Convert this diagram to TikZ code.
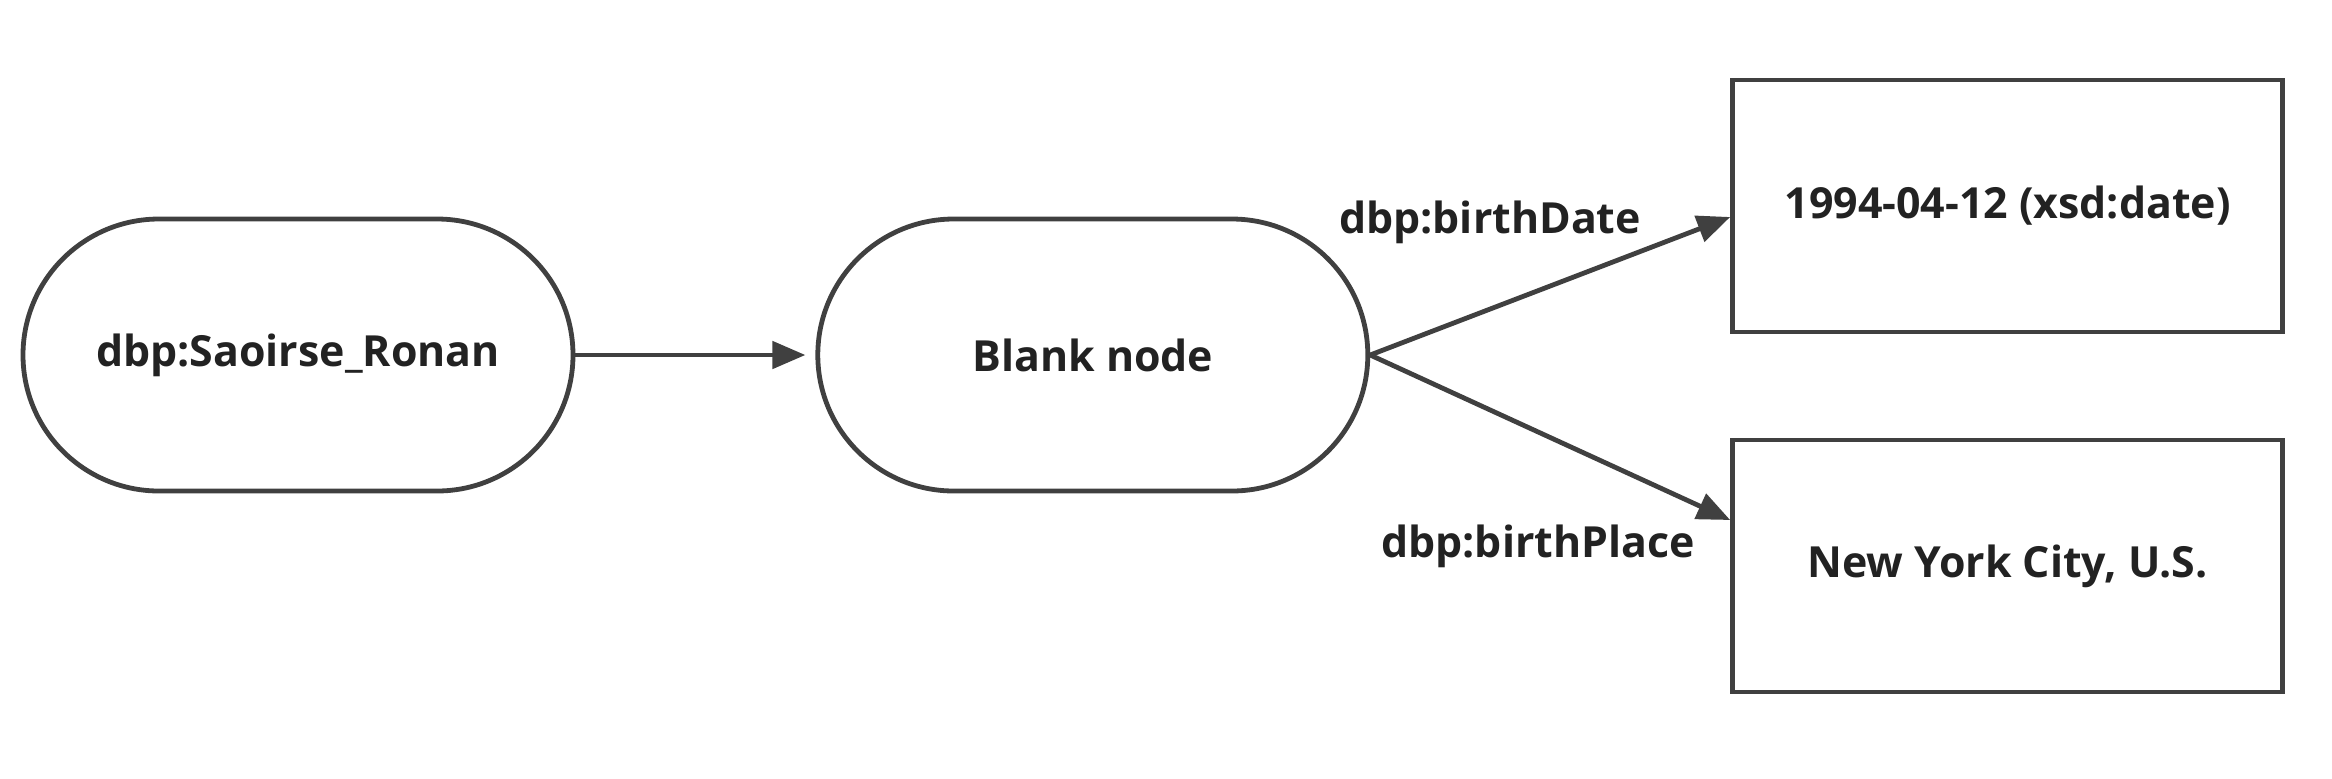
\documentclass[tikz,border=0pt]{standalone}
\usepackage{fontspec}
\setmainfont{Open Sans}
\usetikzlibrary{arrows.meta,positioning}
\definecolor{edgegray}{HTML}{404040}
\definecolor{txtgray}{HTML}{222222}

\begin{document}
\begin{tikzpicture}[node distance=2.4cm,
  pill/.style={draw=edgegray,line width=0.048cm,rounded corners=1.36cm,minimum width=5.5cm,minimum height=2.72cm,font=\bfseries\fontsize{12.2}{14}\selectfont,text=txtgray},
  lit/.style={draw=edgegray,line width=0.048cm,minimum width=5.5cm,minimum height=2.52cm,font=\bfseries\fontsize{12.2}{14}\selectfont,text=txtgray},
  lbl/.style={font=\bfseries\fontsize{12.2}{14}\selectfont,text=txtgray},
  arr/.style={-{Triangle[length=0.33cm,width=0.27cm]},line width=0.048cm,draw=edgegray}]
\useasboundingbox (0,0) rectangle (23.32,7.78);
\node[pill](s) at (2.98,4.23){dbp:Saoirse\_Ronan};
\node[pill,right=of s](b){Blank node};
\node[lit,right=3.6cm of b,yshift=1.49cm](d){1994-04-12 (xsd:date)};
\node[lit,right=3.6cm of b,yshift=-2.11cm](p){New York City, U.S.};
\node[lbl](ld) at (14.90,5.56){dbp:birthDate};
\node[lbl](lp) at (15.38,2.32){dbp:birthPlace};
\draw[arr,shorten >=0.1cm](s.east)--(b.west);
\draw[arr](b.east)--([yshift=-0.11cm]d.west);
\draw[arr](b.east)--([yshift=0.46cm]p.west);
\end{tikzpicture}
\end{document}
